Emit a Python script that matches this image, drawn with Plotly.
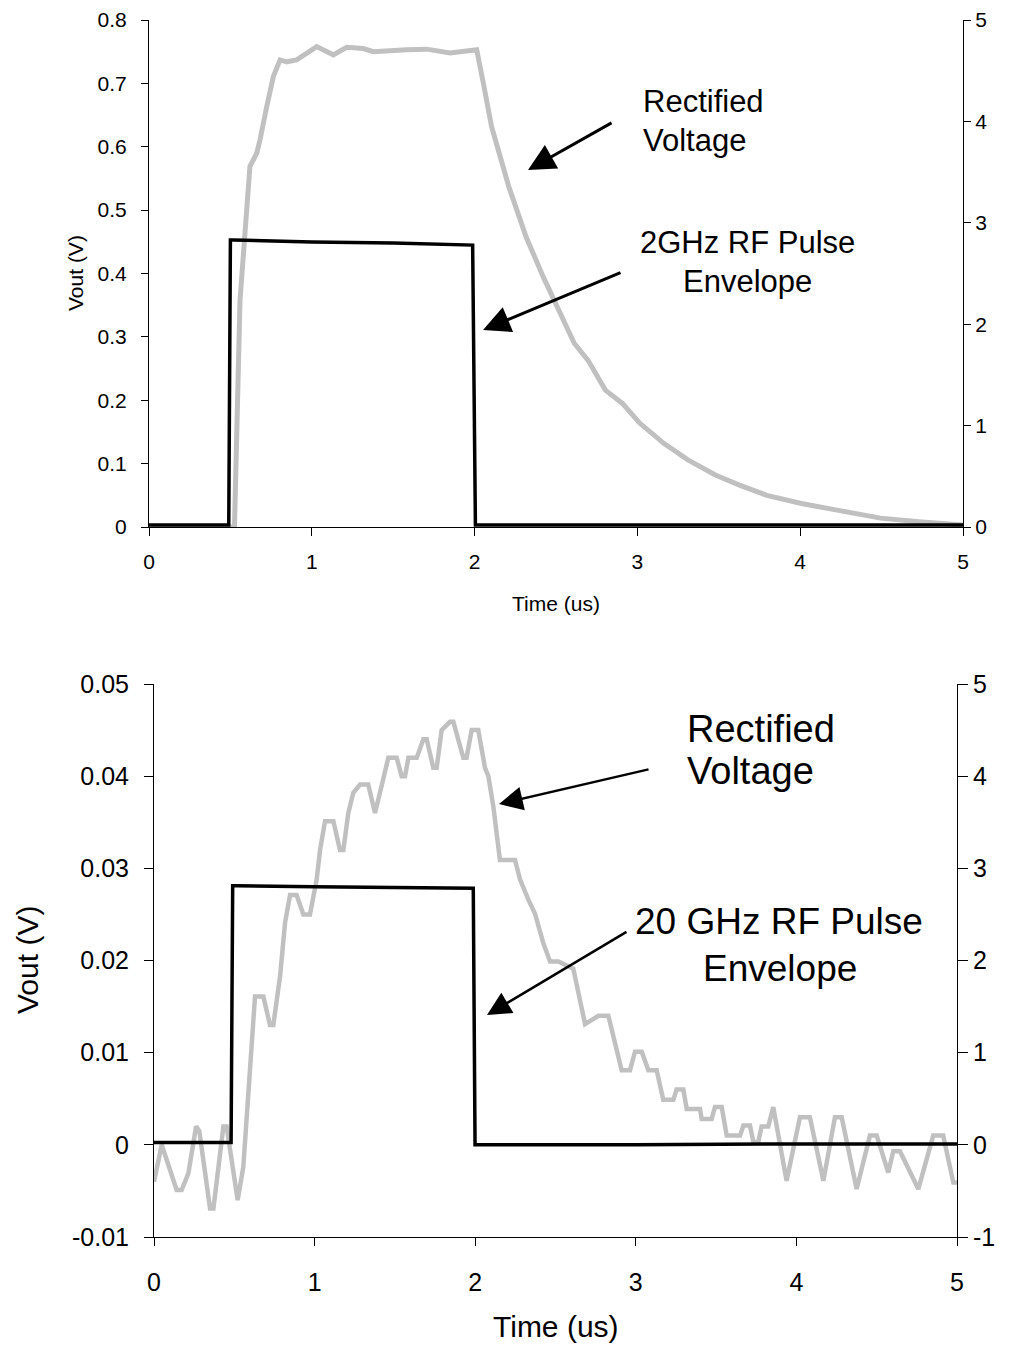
import plotly.graph_objects as go

PAGE_W, PAGE_H = 1012, 1351
BODY_MARGIN = 8            # browser default body margin around the plot div
W, H = PAGE_W - 2 * BODY_MARGIN, PAGE_H - 2 * BODY_MARGIN
FONT = "Liberation Sans, Arial, sans-serif"

# ---------------- data: top chart (2 GHz) ----------------
t_rect_2g = [0.0, 0.525, 0.559, 0.600, 0.620, 0.662, 0.682, 0.723, 0.764, 0.805,
             0.846, 0.907, 0.969, 1.030, 1.132, 1.173, 1.214, 1.316, 1.378, 1.583,
             1.706, 1.849, 2.013, 2.054, 2.104, 2.210, 2.316, 2.421, 2.527, 2.612,
             2.697, 2.803, 2.908, 3.014, 3.162, 3.310, 3.479, 3.627, 3.795, 4.007,
             4.218, 4.493, 4.747, 4.852, 5.0]
v_rect_2g = [0.0, 0.0, 0.358, 0.516, 0.569, 0.590, 0.611, 0.663, 0.711, 0.737,
             0.734, 0.737, 0.747, 0.758, 0.745, 0.750, 0.757, 0.755, 0.750, 0.753,
             0.754, 0.748, 0.753, 0.700, 0.632, 0.537, 0.458, 0.395, 0.337, 0.290,
             0.263, 0.216, 0.195, 0.164, 0.132, 0.106, 0.082, 0.066, 0.050, 0.037,
             0.027, 0.014, 0.008, 0.006, 0.003]

t_env_2g = [0.0, 0.490, 0.500, 0.52, 1.0, 1.5, 1.988, 2.005, 3.0, 4.0, 5.0]
v_env_2g = [0.02, 0.02, 2.83, 2.83, 2.81, 2.80, 2.78, 0.02, 0.02, 0.02, 0.02]

# ---------------- data: bottom chart (20 GHz) ----------------
t_rect_20g = [0.000, 0.048, 0.141, 0.172, 0.214, 0.262, 0.282, 0.349, 0.370, 0.432,
              0.452, 0.521, 0.556, 0.598, 0.629, 0.681, 0.722, 0.743, 0.785, 0.816,
              0.847, 0.888, 0.930, 0.971, 1.013, 1.034, 1.065, 1.117, 1.158, 1.179,
              1.210, 1.241, 1.283, 1.334, 1.376, 1.407, 1.459, 1.511, 1.542, 1.563,
              1.584, 1.636, 1.677, 1.698, 1.739, 1.760, 1.791, 1.843, 1.864, 1.926,
              1.946, 1.978, 2.019, 2.061, 2.082, 2.113, 2.154, 2.248, 2.279, 2.331,
              2.372, 2.424, 2.466, 2.518, 2.611, 2.684, 2.767, 2.829, 2.912, 2.964,
              2.995, 3.037, 3.078, 3.130, 3.171, 3.234, 3.254, 3.296, 3.317, 3.400,
              3.410, 3.472, 3.493, 3.535, 3.566, 3.649, 3.670, 3.711, 3.732, 3.763,
              3.783, 3.825, 3.856, 3.939, 4.022, 4.084, 4.168, 4.240, 4.282, 4.375,
              4.458, 4.500, 4.572, 4.603, 4.645, 4.759, 4.852, 4.914, 4.977, 5.000]
v_rect_20g = [-0.0040, 0.0000, -0.0049, -0.0049, -0.0031, 0.0020, 0.0015, -0.0069, -0.0069, 0.0020,
              0.0020, -0.0060, -0.0024, 0.0074, 0.0161, 0.0161, 0.0130, 0.0130, 0.0183, 0.0241,
              0.0271, 0.0271, 0.0250, 0.0250, 0.0288, 0.0320, 0.0351, 0.0351, 0.0320, 0.0320,
              0.0360, 0.0382, 0.0391, 0.0391, 0.0360, 0.0382, 0.0420, 0.0420, 0.0400, 0.0400,
              0.0420, 0.0420, 0.0440, 0.0440, 0.0409, 0.0409, 0.0450, 0.0459, 0.0459, 0.0420,
              0.0420, 0.0450, 0.0450, 0.0409, 0.0400, 0.0367, 0.0309, 0.0309, 0.0288, 0.0266,
              0.0251, 0.0219, 0.0199, 0.0199, 0.0191, 0.0131, 0.0140, 0.0140, 0.0081, 0.0081,
              0.0101, 0.0101, 0.0081, 0.0081, 0.0049, 0.0049, 0.0060, 0.0060, 0.0039, 0.0039,
              0.0028, 0.0028, 0.0041, 0.0041, 0.0010, 0.0010, 0.0021, 0.0021, 0.0003, 0.0003,
              0.0020, 0.0020, 0.0041, -0.0039, 0.0030, 0.0030, -0.0039, 0.0030, 0.0030, -0.0048,
              0.0010, 0.0010, -0.0030, -0.0007, -0.0007, -0.0048, 0.0010, 0.0010, -0.0041, -0.0041]

t_env_20g = [0.0, 0.480, 0.490, 0.52, 1.0, 1.5, 1.988, 1.999, 3.0, 4.0, 5.0]
v_env_20g = [0.025, 0.025, 2.81, 2.81, 2.80, 2.79, 2.785, 0.0, 0.0, 0.01, 0.01]

# ---------------- tick labels ----------------
x_ticks = [0, 1, 2, 3, 4, 5]
x_ticktext = ["0", "1", "2", "3", "4", "5"]
top_left_ticks = [0, 0.1, 0.2, 0.3, 0.4, 0.5, 0.6, 0.7, 0.8]
top_left_text = ["0", "0.1", "0.2", "0.3", "0.4", "0.5", "0.6", "0.7", "0.8"]
top_right_ticks = [0, 1, 2, 3, 4, 5]
top_right_text = ["0", "1", "2", "3", "4", "5"]
bot_left_ticks = [-0.01, 0, 0.01, 0.02, 0.03, 0.04, 0.05]
bot_left_text = ["-0.01", "0", "0.01", "0.02", "0.03", "0.04", "0.05"]
bot_right_ticks = [-1, 0, 1, 2, 3, 4, 5]
bot_right_text = ["-1", "0", "1", "2", "3", "4", "5"]

assert len(t_rect_2g) == len(v_rect_2g)
assert len(t_rect_20g) == len(v_rect_20g)
assert len(t_env_2g) == len(v_env_2g)
assert len(t_env_20g) == len(v_env_20g)


def fx(p):
    """page pixel x -> paper fraction"""
    return (p - BODY_MARGIN) / W


def fy(p):
    """page pixel y (from top) -> paper fraction"""
    return 1 - (p - BODY_MARGIN) / H


GRAY = "#c0c0c0"
fig = go.Figure()
fig.add_trace(go.Scatter(x=t_rect_2g, y=v_rect_2g, xaxis="x", yaxis="y", mode="lines",
                         line=dict(color=GRAY, width=5), hoverinfo="skip"))
fig.add_trace(go.Scatter(x=t_env_2g, y=v_env_2g, xaxis="x", yaxis="y2", mode="lines",
                         line=dict(color="black", width=3.5), hoverinfo="skip"))
fig.add_trace(go.Scatter(x=t_rect_20g, y=v_rect_20g, xaxis="x2", yaxis="y3", mode="lines",
                         line=dict(color=GRAY, width=4.5), hoverinfo="skip"))
fig.add_trace(go.Scatter(x=t_env_20g, y=v_env_20g, xaxis="x2", yaxis="y4", mode="lines",
                         line=dict(color="black", width=3.5), hoverinfo="skip"))

common = dict(showgrid=False, zeroline=False, linecolor="black", linewidth=1,
              tickcolor="black", tickwidth=1, fixedrange=True, automargin=False)

top_dom_x = [fx(149), fx(963)]
top_dom_y = [fy(527), fy(20)]
bot_dom_x = [fx(154), fx(957)]
bot_dom_y = [fy(1237), fy(684)]

f_top = dict(family=FONT, size=21, color="black")
f_bot = dict(family=FONT, size=25, color="black")

fig.update_layout(
    width=W, height=H,
    margin=dict(l=0, r=0, t=0, b=0, pad=0, autoexpand=False),
    paper_bgcolor="white", plot_bgcolor="white",
    showlegend=False,
    font=dict(family=FONT, color="black"),
    xaxis=dict(domain=top_dom_x, range=[0, 5], anchor="y", showline=True,
               ticks="outside", ticklen=8, tickvals=x_ticks, ticktext=x_ticktext,
               tickfont=f_top, ticklabelstandoff=8, **common),
    yaxis=dict(domain=top_dom_y, range=[0, 0.8], anchor="x", showline=True,
               ticks="outside", ticklen=7, tickvals=top_left_ticks, ticktext=top_left_text,
               tickfont=f_top, ticklabelstandoff=10, **common),
    yaxis2=dict(overlaying="y", side="right", anchor="x", range=[0, 5], showline=True,
                ticks="outside", ticklen=7, tickvals=top_right_ticks, ticktext=top_right_text,
                tickfont=f_top, ticklabelstandoff=0, **common),
    yaxis5=dict(overlaying="y", side="right", anchor="x", range=[0, 5], showline=False,
                ticks="inside", ticklen=7, tickvals=top_right_ticks, showticklabels=False,
                **common),
    xaxis2=dict(domain=bot_dom_x, range=[0, 5], anchor="y3", showline=True,
                ticks="outside", ticklen=8, tickvals=x_ticks, ticktext=x_ticktext,
                tickfont=f_bot, ticklabelstandoff=15, **common),
    yaxis3=dict(domain=bot_dom_y, range=[-0.01, 0.05], anchor="x2", showline=True,
                ticks="outside", ticklen=9, tickvals=bot_left_ticks, ticktext=bot_left_text,
                tickfont=f_bot, ticklabelstandoff=10, **common),
    yaxis4=dict(overlaying="y3", side="right", anchor="x2", range=[-1, 5], showline=True,
                ticks="outside", ticklen=10, tickvals=bot_right_ticks, ticktext=bot_right_text,
                tickfont=f_bot, ticklabelstandoff=0, **common),
    yaxis6=dict(overlaying="y3", side="right", anchor="x2", range=[-1, 5], showline=False,
                ticks="inside", ticklen=10, tickvals=bot_right_ticks, showticklabels=False,
                **common),
)

anns = []


def text_ann(txt, x, y, size, xanchor="center"):
    anns.append(dict(text=txt, x=fx(x), y=fy(y), xref="paper", yref="paper",
                     xanchor=xanchor, yanchor="middle", showarrow=False,
                     font=dict(family=FONT, size=size, color="black")))


def arrow_ann(hx, hy, tx, ty, width, size):
    anns.append(dict(text="", x=fx(hx), y=fy(hy), xref="paper", yref="paper",
                     ax=tx - hx, ay=ty - hy, showarrow=True, arrowhead=2,
                     arrowwidth=width, arrowsize=size, arrowcolor="black", standoff=0))


# axis titles
text_ann("Time (us)", 556, 603, 21)
anns.append(dict(text="Vout (V)", x=fx(75), y=fy(273), xref="paper", yref="paper",
                 xanchor="center", yanchor="middle", showarrow=False, textangle=-90,
                 font=dict(family=FONT, size=21, color="black")))
text_ann("Time (us)", 556, 1326, 30)
anns.append(dict(text="Vout (V)", x=fx(27), y=fy(960), xref="paper", yref="paper",
                 xanchor="center", yanchor="middle", showarrow=False, textangle=-90,
                 font=dict(family=FONT, size=30, color="black")))

# top labels
text_ann("Rectified", 641, 101, 31, "left")
text_ann("Voltage", 641, 140, 31, "left")
text_ann("2GHz RF Pulse", 747, 242, 31)
text_ann("Envelope", 747, 281, 31)
arrow_ann(528, 170, 613, 122, 3, 1.8)
arrow_ann(483, 330, 622, 272, 3, 1.8)

# bottom labels
text_ann("Rectified", 685, 729, 38, "left")
text_ann("Voltage", 685, 771, 38, "left")
text_ann("20 GHz RF Pulse", 779, 921, 37)
text_ann("Envelope", 780, 968, 37)
arrow_ann(499, 804, 650, 769, 2.5, 1.9)
arrow_ann(487, 1015, 628, 931, 2.5, 1.9)

fig.update_layout(annotations=anns)
fig.write_html("out.html")
